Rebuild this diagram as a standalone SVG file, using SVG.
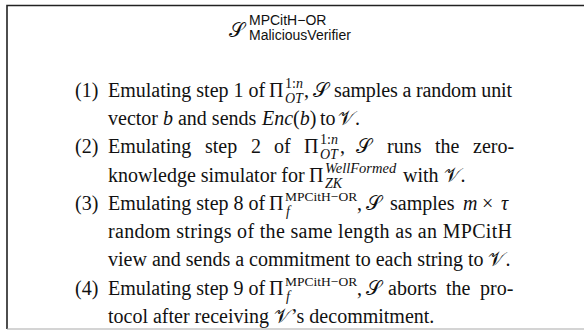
<svg xmlns="http://www.w3.org/2000/svg" width="584" height="330" viewBox="0 0 584 330">
  <style>
    .t { font-family: "Liberation Serif", "Times New Roman", serif; font-size: 20px; fill: #111; }
    .i { font-style: italic; }
    .s { font-size: 14px; }
    .sr { font-size: 13.5px; }
    .cal { font-family: "DejaVu Serif", "DejaVu Sans", serif; font-style: normal; }
    .sans { font-family: "Liberation Sans", Arial, sans-serif; font-size: 14px; fill: #111; }
  </style>
  <rect width="584" height="330" fill="#fff"/>

  <!-- frame: left and top rules dark, bottom rule light -->
  <g id="frame" fill="none">
    <path d="M7,329 V5.5 H584" stroke="#222" stroke-width="1.6"/>
    <path d="M7,329 H584" stroke="#aaa" stroke-width="1.2"/>
  </g>

  <!-- heading -->
  <g id="title">
    <text class="t cal" x="229" y="37" font-size="23">𝒮</text>
    <text class="sans" x="249" y="25">MPCitH−OR</text>
    <text class="sans" x="249" y="40">MaliciousVerifier</text>
  </g>

  <!-- step (1) -->
  <g id="step1" class="t">
    <text x="75" y="97">(1)</text>
    <text x="108" y="97">Emulating step 1 of</text>
    <text x="269" y="97">Π</text>
    <text x="285" y="88" class="s">1:<tspan class="i">n</tspan></text>
    <text x="285" y="103" class="s i">OT</text>
    <text x="304" y="97">,</text>
    <text x="313" y="97" class="cal">𝒮</text>
    <text x="334" y="97" textLength="178" lengthAdjust="spacing">samples a random unit</text>
    <text x="108" y="125">vector <tspan class="i">b</tspan> and sends</text>
    <text x="262" y="125"><tspan class="i">Enc</tspan>(<tspan class="i">b</tspan>)</text>
    <text x="320" y="125">to</text>
    <text x="338" y="125"><tspan class="cal">𝒱</tspan>.</text>
  </g>

  <!-- step (2) -->
  <g id="step2" class="t">
    <text x="75" y="153">(2)</text>
    <text x="108" y="153">Emulating</text>
    <text x="205" y="153">step</text>
    <text x="251" y="153">2</text>
    <text x="274" y="153">of</text>
    <text x="304" y="153">Π</text>
    <text x="320" y="144" class="s">1:<tspan class="i">n</tspan></text>
    <text x="320" y="159" class="s i">OT</text>
    <text x="340" y="153">,</text>
    <text x="356" y="153" class="cal">𝒮</text>
    <text x="387" y="153">runs</text>
    <text x="435" y="153">the</text>
    <text x="473" y="153">zero-</text>
    <text x="108" y="182">knowledge simulator for</text>
    <text x="309" y="182">Π</text>
    <text x="325" y="173" class="i" font-size="14.5">WellFormed</text>
    <text x="325" y="188" class="s i">ZK</text>
    <text x="403" y="182">with <tspan class="cal">𝒱</tspan>.</text>
  </g>

  <!-- step (3) -->
  <g id="step3" class="t">
    <text x="75" y="210">(3)</text>
    <text x="108" y="210">Emulating step 8 of</text>
    <text x="269" y="210">Π</text>
    <text x="285" y="201" class="sr">MPCitH−OR</text>
    <text x="286" y="216" class="s i">f</text>
    <text x="357" y="210">,</text>
    <text x="366" y="210" class="cal">𝒮</text>
    <text x="390" y="210">samples</text>
    <text x="463" y="210" class="i">m</text>
    <text x="482" y="210">×</text>
    <text x="501" y="210" class="i">τ</text>
    <text x="108" y="238" textLength="404" lengthAdjust="spacing">random strings of the same length as an MPCitH</text>
    <text x="108" y="266">view and sends a commitment to each string to <tspan class="cal">𝒱</tspan>.</text>
  </g>

  <!-- step (4) -->
  <g id="step4" class="t">
    <text x="75" y="295">(4)</text>
    <text x="108" y="295">Emulating step 9 of</text>
    <text x="269" y="295">Π</text>
    <text x="285" y="286" class="sr">MPCitH−OR</text>
    <text x="286" y="301" class="s i">f</text>
    <text x="357" y="295">,</text>
    <text x="366" y="295" class="cal">𝒮</text>
    <text x="388" y="295">aborts</text>
    <text x="446" y="295">the</text>
    <text x="480" y="295">pro-</text>
    <text x="108" y="323">tocol after receiving <tspan class="cal">𝒱</tspan>’s decommitment.</text>
  </g>
</svg>
